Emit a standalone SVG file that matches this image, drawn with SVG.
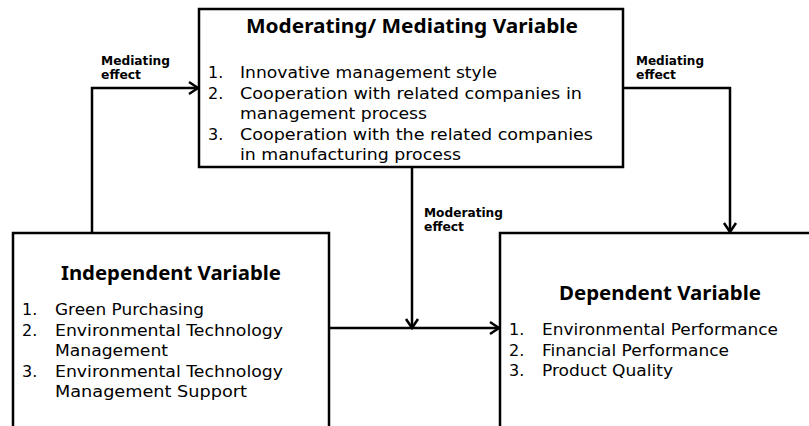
<svg xmlns="http://www.w3.org/2000/svg" width="809" height="426" viewBox="0 0 809 426">
<style>
.box{fill:#fff;stroke:#000;stroke-width:2.5}
.title{font-family:"Noto Sans","DejaVu Sans",sans-serif;font-weight:bold;font-size:19px;fill:#000}
.item{font-family:"DejaVu Sans","Noto Sans",sans-serif;font-size:16px;fill:#000}
.lbl{font-family:"DejaVu Sans","Noto Sans",sans-serif;font-weight:bold;font-size:11.5px;fill:#000}
.conn{fill:none;stroke:#000;stroke-width:2.5}
</style>
<defs>
<marker id="arr" markerUnits="userSpaceOnUse" markerWidth="16" markerHeight="16" refX="12" refY="8" orient="auto" viewBox="0 0 16 16">
<polyline points="3,2 12,8 3,14" fill="none" stroke="#000" stroke-width="2.5"/>
</marker>
</defs>
<g id="connectors">
<polyline class="conn" points="92,233 92,88 198,88" marker-end="url(#arr)"/>
<polyline class="conn" points="623,88 730,88 730,232" marker-end="url(#arr)"/>
<polyline class="conn" points="412,167 412,328" marker-end="url(#arr)"/>
<polyline class="conn" points="329,328 499,328" marker-end="url(#arr)"/>
<text class="lbl" x="101" y="64.5" textLength="69" lengthAdjust="spacingAndGlyphs">Mediating</text>
<text class="lbl" x="101" y="79" textLength="40" lengthAdjust="spacingAndGlyphs">effect</text>
<text class="lbl" x="636" y="64.5" textLength="68" lengthAdjust="spacingAndGlyphs">Mediating</text>
<text class="lbl" x="636" y="79" textLength="40" lengthAdjust="spacingAndGlyphs">effect</text>
<text class="lbl" x="424" y="216.5" textLength="79" lengthAdjust="spacingAndGlyphs">Moderating</text>
<text class="lbl" x="424" y="231" textLength="40" lengthAdjust="spacingAndGlyphs">effect</text>
</g>
<g id="moderating">
<rect class="box" x="199" y="9" width="424" height="158"/>
<text class="title" x="246" y="33" textLength="332" lengthAdjust="spacingAndGlyphs">Moderating/ Mediating Variable</text>
<text class="item" x="208" y="78">1.</text>
<text class="item" x="240" y="78" textLength="257" lengthAdjust="spacingAndGlyphs">Innovative management style</text>
<text class="item" x="208" y="98.5">2.</text>
<text class="item" x="240" y="98.5" textLength="342" lengthAdjust="spacingAndGlyphs">Cooperation with related companies in</text>
<text class="item" x="240" y="119" textLength="187" lengthAdjust="spacingAndGlyphs">management process</text>
<text class="item" x="208" y="139.5">3.</text>
<text class="item" x="240" y="139.5" textLength="353" lengthAdjust="spacingAndGlyphs">Cooperation with the related companies</text>
<text class="item" x="240" y="160" textLength="221" lengthAdjust="spacingAndGlyphs">in manufacturing process</text>
</g>
<g id="independent">
<rect class="box" x="13" y="233" width="316" height="200"/>
<text class="title" x="61" y="280" textLength="220" lengthAdjust="spacingAndGlyphs">Independent Variable</text>
<text class="item" x="22" y="315">1.</text>
<text class="item" x="55" y="315" textLength="149" lengthAdjust="spacingAndGlyphs">Green Purchasing</text>
<text class="item" x="22" y="335.5">2.</text>
<text class="item" x="55" y="335.5" textLength="228" lengthAdjust="spacingAndGlyphs">Environmental Technology</text>
<text class="item" x="55" y="356" textLength="113" lengthAdjust="spacingAndGlyphs">Management</text>
<text class="item" x="22" y="376.5">3.</text>
<text class="item" x="55" y="376.5" textLength="228" lengthAdjust="spacingAndGlyphs">Environmental Technology</text>
<text class="item" x="55" y="397" textLength="192" lengthAdjust="spacingAndGlyphs">Management Support</text>
</g>
<g id="dependent">
<rect class="box" x="500" y="233" width="320" height="200"/>
<text class="title" x="559" y="300" textLength="202" lengthAdjust="spacingAndGlyphs">Dependent Variable</text>
<text class="item" x="509" y="335">1.</text>
<text class="item" x="542" y="335" textLength="236" lengthAdjust="spacingAndGlyphs">Environmental Performance</text>
<text class="item" x="509" y="355.5">2.</text>
<text class="item" x="542" y="355.5" textLength="187" lengthAdjust="spacingAndGlyphs">Financial Performance</text>
<text class="item" x="509" y="376">3.</text>
<text class="item" x="542" y="376" textLength="131" lengthAdjust="spacingAndGlyphs">Product Quality</text>
</g>
</svg>
